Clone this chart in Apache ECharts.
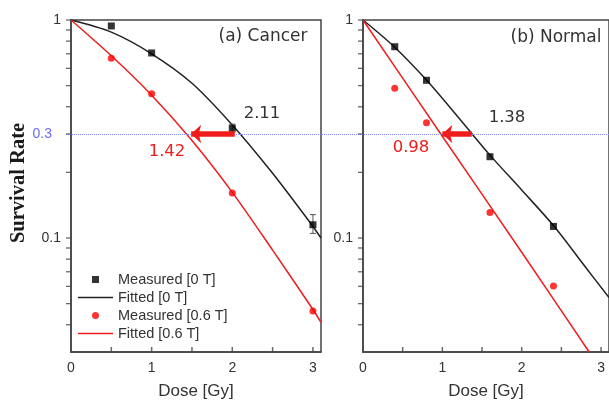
<!DOCTYPE html>
<html><head><meta charset="utf-8">
<script src="https://cdn.jsdelivr.net/npm/echarts@6/dist/echarts.min.js"></script>
<style>html,body{margin:0;padding:0;background:#fff}#c{width:609px;height:407px}</style>
</head><body><div id="c"></div>
<script>
// ---- data ----
const cancerDose = [0.5, 1, 2, 3];
const cancerMeasured0T = [0.939, 0.706, 0.319, 0.115];
const cancerMeasured06T = [0.667, 0.459, 0.161, 0.0462];
const cancerErrLow0T = [null, null, 0.305, 0.105];
const cancerErrHigh0T = [null, null, 0.333, 0.128];
const cancerFitDose = [0, 0.5, 1, 1.5, 2, 2.5, 3, 3.1];
const cancerFitted0T = [1, 0.88, 0.70, 0.513, 0.33, 0.198, 0.113, 0.100];
const cancerFitted06T = [1, 0.685, 0.452, 0.28, 0.162, 0.088, 0.047, 0.041];

const normalDose = [0.4, 0.8, 1.6, 2.4];
const normalMeasured0T = [0.754, 0.529, 0.236, 0.113];
const normalMeasured06T = [0.486, 0.338, 0.131, 0.0603];
const normalFitDose0T = [0, 0.4, 0.8, 1.2, 1.6, 2.0, 2.4, 2.8, 3.1];
const normalFitted0T = [1, 0.75, 0.53, 0.358, 0.24, 0.166, 0.114, 0.0738, 0.0533];
const normalFitDose06T = [0, 0.98, 2.0, 2.85];
const normalFitted06T = [1, 0.3, 0.086, 0.03];

const threshold = 0.3;
const arrowCancer = [2.03, 1.49];
const arrowNormal = [1.37, 1.0];

const doseTicks = [0.5, 1, 1.5, 2, 2.5, 3];
const doseLabels = [0, 1, 2, 3];
const rateTicks = [0.04, 0.05, 0.06, 0.07, 0.08, 0.09, 0.1, 0.2, 0.3, 0.4, 0.5, 0.6, 0.7, 0.8, 0.9, 1];
const rateLabels = [0.1, 1];

const legendNames = ['Measured [0 T]', 'Fitted [0 T]', 'Measured [0.6 T]', 'Fitted [0.6 T]'];

// ---- helpers ----
const pair = (xs, ys) => xs.map((x, i) => [x, ys[i]]);
const SANS = '"Liberation Sans", Arial, sans-serif';
const AX = '#444';
const RED = '#f01c1c';
const RATE_MIN = 0.03, RATE_MAX = 1, DOSE_MAX = 3.1;

function xAxisFor(gi) {
  return {
    gridIndex: gi, type: 'value', min: 0, max: DOSE_MAX,
    axisLine: { lineStyle: { color: AX, width: 1.5 } },
    axisTick: { show: false },
    axisLabel: { customValues: doseLabels, fontSize: 14, color: '#333', margin: 9, fontFamily: SANS },
    splitLine: { show: false },
    name: 'Dose [Gy]', nameLocation: 'middle', nameGap: 31,
    nameTextStyle: { fontSize: 17, color: '#333', fontFamily: SANS }
  };
}
function yAxisFor(gi) {
  return {
    gridIndex: gi, type: 'log', logBase: 10, min: RATE_MIN, max: RATE_MAX,
    axisLine: { show: true, lineStyle: { color: AX, width: 1.5 } },
    axisTick: { show: false },
    axisLabel: { customValues: rateLabels, fontSize: 14, color: '#333', margin: 10, fontFamily: SANS,
      formatter: v => String(v) },
    splitLine: { show: false }
  };
}
function tickSeries(gi) {
  return [
    { type: 'scatter', xAxisIndex: gi, yAxisIndex: gi, silent: true, clip: false, z: 6,
      data: rateTicks.map(v => [0, v]), symbol: 'rect', symbolSize: [5, 1.3], symbolOffset: [-2.5, 0],
      itemStyle: { color: AX } },
    { type: 'scatter', xAxisIndex: gi, yAxisIndex: gi, silent: true, clip: false, z: 6,
      data: doseTicks.map(v => [v, RATE_MIN]), symbol: 'rect', symbolSize: [1.5, 5], symbolOffset: [0, -2.5],
      itemStyle: { color: AX } }
  ];
}
function errSeries(gi, xs, lo, hi, color) {
  const d = [];
  xs.forEach((x, i) => { if (lo[i] != null) d.push([x, lo[i], hi[i]]); });
  return {
    type: 'custom', xAxisIndex: gi, yAxisIndex: gi, data: d, silent: true, z: 3,
    renderItem: (params, api) => {
      const a = api.coord([api.value(0), api.value(1)]);
      const b = api.coord([api.value(0), api.value(2)]);
      const st = { stroke: color, lineWidth: 1 };
      return { type: 'group', children: [
        { type: 'line', shape: { x1: a[0], y1: a[1], x2: b[0], y2: b[1] }, style: st },
        { type: 'line', shape: { x1: a[0] - 3, y1: a[1], x2: a[0] + 3, y2: a[1] }, style: st },
        { type: 'line', shape: { x1: b[0] - 3, y1: b[1], x2: b[0] + 3, y2: b[1] }, style: st }
      ]};
    }
  };
}
function arrowLine(arr) {
  return {
    silent: true, symbol: ['none', 'arrow'], symbolSize: [14, 10],
    lineStyle: { color: RED, width: 5.5, type: 'solid' },
    label: { show: false },
    data: [[{ coord: [arr[0], threshold] }, { coord: [arr[1], threshold] }]]
  };
}
function panelSeries(gi, dose, m0, m6, fd0, f0, fd6, f6, arr) {
  return [
    { name: legendNames[1], type: 'line', xAxisIndex: gi, yAxisIndex: gi, data: pair(fd0, f0),
      smooth: 0.3, symbol: 'none', showSymbol: false, lineStyle: { color: '#222', width: 1.5 }, itemStyle: { color: '#222' }, z: 2 },
    { name: legendNames[3], type: 'line', xAxisIndex: gi, yAxisIndex: gi, data: pair(fd6, f6),
      smooth: 0.3, symbol: 'none', showSymbol: false, lineStyle: { color: RED, width: 1.5 }, itemStyle: { color: RED }, z: 2,
      markLine: arrowLine(arr) },
    { name: legendNames[0], type: 'scatter', xAxisIndex: gi, yAxisIndex: gi, data: pair(dose, m0),
      symbol: 'rect', symbolSize: 7, itemStyle: { color: '#000' }, z: 4 },
    { name: legendNames[2], type: 'scatter', xAxisIndex: gi, yAxisIndex: gi, data: pair(dose, m6),
      symbol: 'circle', symbolSize: 7, itemStyle: { color: '#ff0000' }, z: 4 }
  ];
}

const LINE_ICON = 'path://M0,0h40v1.7h-40z';
const SQUARE_ICON = 'path://M0,0h10v10h-10z';

const chart = echarts.init(document.getElementById('c'), null, { renderer: 'canvas' });
const gridStyle = { show: true, borderColor: AX, borderWidth: 1.5, backgroundColor: 'transparent' };
chart.setOption({
  animation: false,
  backgroundColor: '#fff',
  grid: [
    Object.assign({ left: 71, top: 20, width: 250, height: 332 }, gridStyle),
    Object.assign({ left: 363, top: 20, width: 250, height: 332 }, gridStyle),
    { left: 66, top: 20, width: 543, height: 332, show: false }
  ],
  xAxis: [xAxisFor(0), xAxisFor(1), { gridIndex: 2, type: 'value', min: 0, max: 1, show: false }],
  yAxis: [yAxisFor(0), yAxisFor(1), { gridIndex: 2, type: 'log', min: RATE_MIN, max: RATE_MAX, show: false }],
  legend: {
    data: [
      { name: legendNames[0], icon: SQUARE_ICON },
      { name: legendNames[1], icon: LINE_ICON },
      { name: legendNames[2], icon: 'circle' },
      { name: legendNames[3], icon: LINE_ICON }
    ],
    orient: 'vertical', left: 78, top: 272, padding: 0, symbolKeepAspect: true,
    itemWidth: 35, itemHeight: 7, itemGap: 3, selectedMode: false,
    textStyle: { fontSize: 14.5, lineHeight: 15, color: '#333', fontFamily: SANS }
  },
  series: [
    { type: 'line', xAxisIndex: 2, yAxisIndex: 2, data: [], silent: true,
      markLine: { silent: true, symbol: 'none', data: [{ yAxis: threshold }],
        lineStyle: { type: 'dotted', color: '#8a8aff', width: 1 },
        label: { position: 'start', formatter: String(threshold), color: '#6b6bf0', fontSize: 14,
          fontFamily: SANS, distance: 14 } } },
    ...panelSeries(0, cancerDose, cancerMeasured0T, cancerMeasured06T, cancerFitDose, cancerFitted0T,
      cancerFitDose, cancerFitted06T, arrowCancer),
    ...panelSeries(1, normalDose, normalMeasured0T, normalMeasured06T, normalFitDose0T, normalFitted0T,
      normalFitDose06T, normalFitted06T, arrowNormal),
    errSeries(0, cancerDose, cancerErrLow0T, cancerErrHigh0T, '#555'),
    ...tickSeries(0),
    ...tickSeries(1)
  ],
  graphic: [
    { type: 'text', x: 19, y: 183, rotation: Math.PI / 2,
      style: { text: 'Survival Rate', font: 'bold 20.5px "Liberation Serif", "Times New Roman", serif', fill: '#1a1a1a',
        align: 'center', verticalAlign: 'middle', textAlign: 'center', textVerticalAlign: 'middle' } },
    { type: 'text', x: 263, y: 37,
      style: { text: '(a) Cancer', font: '17px "DejaVu Sans", sans-serif', fill: '#333',
        align: 'center', verticalAlign: 'middle', textAlign: 'center', textVerticalAlign: 'middle' } },
    { type: 'text', x: 556, y: 38,
      style: { text: '(b) Normal', font: '17px "DejaVu Sans", sans-serif', fill: '#333',
        align: 'center', verticalAlign: 'middle', textAlign: 'center', textVerticalAlign: 'middle' } },
    { type: 'text', x: 262, y: 114,
      style: { text: '2.11', font: '16.5px "DejaVu Sans", sans-serif', fill: '#333',
        align: 'center', verticalAlign: 'middle', textAlign: 'center', textVerticalAlign: 'middle' } },
    { type: 'text', x: 167, y: 152,
      style: { text: '1.42', font: '16.5px "DejaVu Sans", sans-serif', fill: RED,
        align: 'center', verticalAlign: 'middle', textAlign: 'center', textVerticalAlign: 'middle' } },
    { type: 'text', x: 507, y: 118,
      style: { text: '1.38', font: '16.5px "DejaVu Sans", sans-serif', fill: '#333',
        align: 'center', verticalAlign: 'middle', textAlign: 'center', textVerticalAlign: 'middle' } },
    { type: 'text', x: 411, y: 148,
      style: { text: '0.98', font: '16.5px "DejaVu Sans", sans-serif', fill: RED,
        align: 'center', verticalAlign: 'middle', textAlign: 'center', textVerticalAlign: 'middle' } }
  ]
});
</script></body></html>
